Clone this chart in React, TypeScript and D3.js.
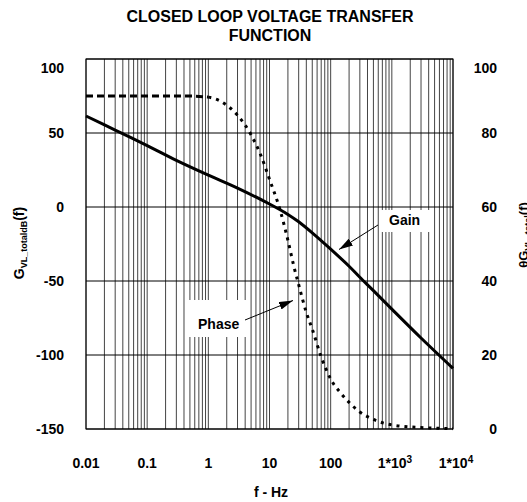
import React from 'react';
import * as d3 from 'd3';

// closed loop gain, dB (left axis)
const gainFreq = [0.01, 0.03, 0.1, 0.3, 1, 3, 10, 20, 30, 50, 100, 200, 300, 500, 1000, 3000, 10000];
const gainDb = [61.5, 52, 41.5, 31.5, 21.5, 12.8, 2, -5, -10, -17.5, -28.5, -40, -47.5, -56.5, -69, -88.5, -109];

// closed loop phase, degrees (right axis)
const phaseFreq = [0.01, 0.1, 0.5, 1, 1.5, 2, 3, 5, 7, 10, 15, 20, 25, 30, 40, 50, 70, 100, 150, 200, 300, 500, 1000, 3000, 10000];
const phaseDeg = [90, 90, 90, 89.7, 88.8, 87.5, 84.8, 79.5, 74.5, 67.5, 59, 51, 44, 39, 31.5, 27, 19.5, 13.5, 9.5, 7.2, 4.6, 2.6, 1.1, 0.4, 0.1];

const xTicks = [0.01, 0.1, 1, 10, 100, 1000, 10000];
const xTickText = ['0.01', '0.1', '1', '10', '100', '1*10', '1*10'];
const xTickSup = ['', '', '', '', '', '3', '4'];
const leftTicks = [-150, -100, -50, 0, 50, 100];
const rightTicks = [0, 20, 40, 60, 80, 100];

const W = 527;
const H = 502;
const margin = { top: 59, right: 74, bottom: 73, left: 86 };
const FONT = '"Liberation Sans", Arial, Helvetica, sans-serif';

export default function App() {
  const x = d3.scaleLog().domain([0.01, 10000]).range([margin.left, W - margin.right]);
  const yL = d3.scaleLinear().domain([-150, 100]).range([H - margin.bottom, margin.top]);
  const yR = d3.scaleLinear().domain([0, 100]).range([H - margin.bottom, margin.top]);

  // minor grid 1..9 in each decade
  const gridX: number[] = [];
  for (let e = -2; e < 4; e++) {
    for (let m = 1; m < 10; m++) gridX.push(m * Math.pow(10, e));
  }
  gridX.push(10000);

  const gainPts = gainFreq.map((f, i) => [f, gainDb[i]] as [number, number]);
  const phasePts = phaseFreq.map((f, i) => [f, phaseDeg[i]] as [number, number]);
  const phaseFlat = phasePts.filter(d => d[0] <= 1);
  const phaseFall = phasePts.filter(d => d[0] >= 1);

  const gainLine = d3.line<[number, number]>()
    .x(d => x(d[0]))
    .y(d => yL(d[1]))
    .curve(d3.curveCatmullRom.alpha(0.5));
  const phaseLine = d3.line<[number, number]>()
    .x(d => x(d[0]))
    .y(d => yR(d[1]))
    .curve(d3.curveMonotoneX);

  const top = margin.top;
  const bottom = H - margin.bottom;
  const left = margin.left;
  const right = W - margin.right;

  const tickY = (y: number) => Math.max(y, top + 9);

  return (
    <svg width={W} height={H} style={{ position: 'absolute', left: 0, top: 0, display: 'block', background: '#fff' }}
      fontFamily={FONT} fontWeight="bold">
      <defs>
        <marker id="arr" viewBox="0 0 14 8" refX="14" refY="4" markerWidth="14" markerHeight="8"
          markerUnits="userSpaceOnUse" orient="auto">
          <path d="M0,0 L14,4 L0,8 Z" fill="#000" />
        </marker>
      </defs>

      <text x={270} y={21.5} textAnchor="middle" fontSize={16}>CLOSED LOOP VOLTAGE TRANSFER</text>
      <text x={270} y={40.5} textAnchor="middle" fontSize={16}>FUNCTION</text>

      {/* grid */}
      {gridX.map((f, i) => (
        <line key={'gx' + i} x1={x(f)} x2={x(f)} y1={top} y2={bottom} stroke="#444" strokeWidth={1} />
      ))}
      {leftTicks.map(v => (
        <line key={'gy' + v} x1={left} x2={right} y1={yL(v)} y2={yL(v)} stroke="#000" strokeWidth={1} />
      ))}
      <rect x={left} y={top} width={right - left} height={bottom - top} fill="none" stroke="#000" strokeWidth={1} />

      {/* label boxes */}
      <rect x={185} y={300} width={62} height={37} fill="#fff" />
      <rect x={380} y={210} width={51} height={22} fill="#fff" />

      {/* curves */}
      <path d={phaseLine(phaseFlat) || ''} fill="none" stroke="#000" strokeWidth={3} strokeDasharray="7,4" />
      <path d={phaseLine(phaseFall) || ''} fill="none" stroke="#000" strokeWidth={3} strokeDasharray="3,5" />
      <path d={gainLine(gainPts) || ''} fill="none" stroke="#000" strokeWidth={3} />

      {/* annotations */}
      <text x={389} y={225} fontSize={14}>Gain</text>
      <line x1={378} y1={225} x2={339} y2={249.5} stroke="#000" strokeWidth={1} markerEnd="url(#arr)" />
      <text x={198} y={329} fontSize={14}>Phase</text>
      <line x1={245} y1={320} x2={293} y2={300.5} stroke="#000" strokeWidth={1} markerEnd="url(#arr)" />

      {/* left axis */}
      {leftTicks.map(v => (
        <text key={'lt' + v} x={64} y={tickY(yL(v))} dy="0.36em" textAnchor="end" fontSize={14}>{v}</text>
      ))}
      {/* right axis */}
      {rightTicks.map(v => (
        <text key={'rt' + v} x={497} y={tickY(yR(v))} dy="0.36em" textAnchor="end" fontSize={14}>{v}</text>
      ))}
      {/* bottom axis */}
      {xTicks.map((f, i) => (
        <text key={'xt' + i} x={x(f) + (xTickSup[i] ? 3 : 0)} y={468} textAnchor="middle" fontSize={14}>
          {xTickText[i]}
          {xTickSup[i] && <tspan dy={-5} fontSize={10}>{xTickSup[i]}</tspan>}
        </text>
      ))}
      <text x={271} y={496.5} textAnchor="middle" fontSize={14}>f - Hz</text>

      {/* axis titles */}
      <text transform="translate(24,243) rotate(-90)" textAnchor="middle" fontSize={14}>
        G<tspan dy={3} fontSize={9}>VL_totaldB</tspan><tspan dy={-3}>(f)</tspan>
      </text>
      <text transform="translate(528,235) rotate(-90)" textAnchor="middle" fontSize={13}>
        θG<tspan dy={3} fontSize={9}>VL_total</tspan><tspan dy={-3}>(f)</tspan>
      </text>
    </svg>
  );
}
